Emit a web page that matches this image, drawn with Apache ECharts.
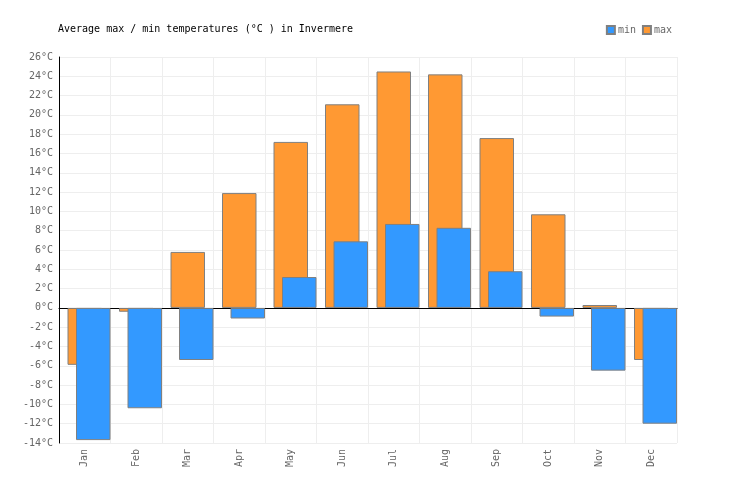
<!DOCTYPE html>
<html>
<head>
<meta charset="utf-8">
<script src="https://cdn.jsdelivr.net/npm/echarts@6/dist/echarts.min.js"></script>
<style>html,body{margin:0;padding:0;background:#fff}#c{width:736px;height:500px}</style>
</head>
<body>
<div id="c"></div>
<script>
const months = ['Jan','Feb','Mar','Apr','May','Jun','Jul','Aug','Sep','Oct','Nov','Dec'];
const maxTemps = [-5.9, -0.4, 5.8, 11.9, 17.2, 21.1, 24.5, 24.2, 17.6, 9.7, 0.3, -5.4];
const minTemps = [-13.7, -10.4, -5.4, -1.1, 3.2, 6.9, 8.7, 8.3, 3.8, -0.9, -6.5, -12.0];
const yMin = -14, yMax = 26, yStep = 2;

const FONT = '"DejaVu Sans Mono", monospace';
const chart = echarts.init(document.getElementById('c'), null, {renderer: 'canvas'});
chart.setOption({
  animation: false,
  backgroundColor: '#fff',
  textStyle: {fontFamily: FONT},
  title: {
    text: 'Average max / min temperatures (°C ) in Invermere',
    left: 58, top: 24, padding: 0,
    textStyle: {fontFamily: FONT, fontSize: 10, fontWeight: 'normal', color: '#000'}
  },
  legend: {
    data: ['min', 'max'],
    right: 64, top: 25, padding: 0,
    icon: 'rect', itemWidth: 8, itemHeight: 8, itemGap: 6,
    textStyle: {fontFamily: FONT, fontSize: 10, color: '#666', padding: [0, 0, 0, -2]}
  },
  grid: {left: 59, right: 59, top: 57, bottom: 57, containLabel: false},
  xAxis: [{
    type: 'category', data: months, position: 'bottom',
    axisLine: {show: false, onZero: false},
    axisTick: {show: false},
    axisLabel: {rotate: 90, fontFamily: FONT, fontSize: 10, color: '#666', margin: 6},
    splitLine: {show: true, lineStyle: {color: '#eeeeee', width: 1}}
  }, {
    type: 'category', data: months, position: 'bottom',
    axisLine: {show: true, onZero: true, lineStyle: {color: '#000', width: 1}},
    axisTick: {show: false},
    axisLabel: {show: false},
    splitLine: {show: false}
  }],
  yAxis: {
    type: 'value', min: yMin, max: yMax, interval: yStep,
    axisLine: {show: true, lineStyle: {color: '#000', width: 1}},
    axisTick: {show: false},
    axisLabel: {fontFamily: FONT, fontSize: 10, color: '#666', margin: 6, formatter: '{value}°C'},
    splitLine: {show: true, lineStyle: {color: '#eeeeee', width: 1}}
  },
  series: [{
    name: 'max', type: 'bar', xAxisIndex: 0, data: maxTemps, barWidth: 34.5,
    itemStyle: {color: '#ff9933', borderColor: '#808080', borderWidth: 1}
  }, {
    name: 'spacer', type: 'bar', xAxisIndex: 1, data: [], barWidth: 17, barGap: '0%'
  }, {
    name: 'min', type: 'bar', xAxisIndex: 1, data: minTemps, barWidth: 34.5, barGap: '0%',
    itemStyle: {color: '#3399ff', borderColor: '#808080', borderWidth: 1}
  }]
});
</script>
</body>
</html>
